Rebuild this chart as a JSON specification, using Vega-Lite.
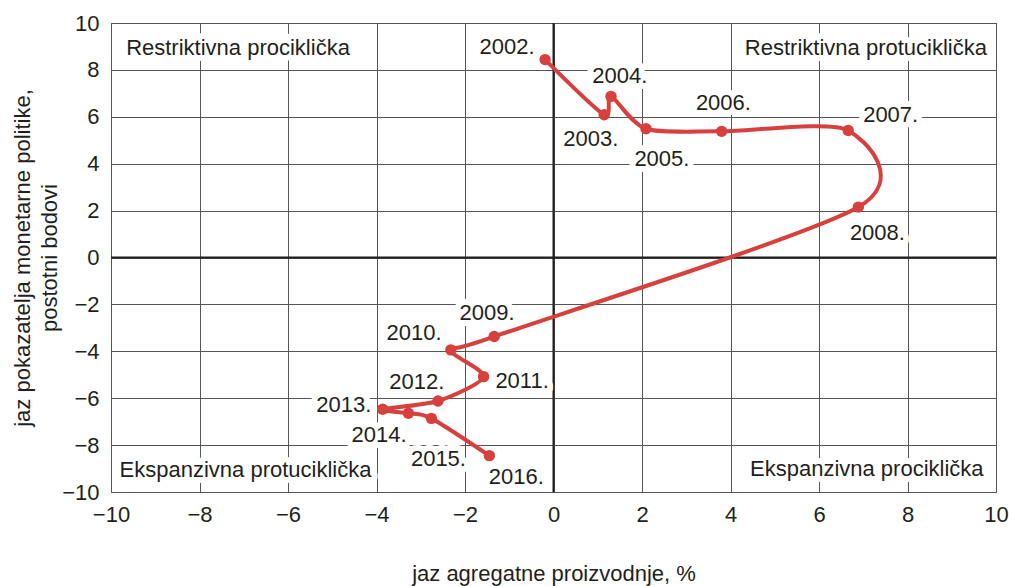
{
  "$schema": "https://vega.github.io/schema/vega-lite/v6.json",
  "width": 885,
  "height": 469,
  "autosize": {"type": "none"},
  "padding": {"left": 111, "top": 23, "right": 13, "bottom": 94},
  "background": "white",
  "config": {
    "view": {"stroke": "#3a3a3a", "strokeWidth": 1},
    "font": "Liberation Sans",
    "axis": {
      "labelFont": "Liberation Sans",
      "labelFontSize": 22,
      "labelColor": "#231f20",
      "titleFont": "Liberation Sans",
      "titleFontSize": 22,
      "titleFontWeight": "normal",
      "titleColor": "#231f20",
      "ticks": false,
      "tickSize": 0,
      "domain": false,
      "grid": true,
      "gridColor": "#555555",
      "gridWidth": 1,
      "labelFlush": false,
      "labelOverlap": false,
      "labelPadding": 12
    }
  },
  "datasets": {
    "pts": [
      {"year": 2002, "x": -0.19, "y": 8.44},
      {"year": 2003, "x": 1.145, "y": 6.09},
      {"year": 2004, "x": 1.30, "y": 6.87},
      {"year": 2005, "x": 2.09, "y": 5.49},
      {"year": 2006, "x": 3.80, "y": 5.38},
      {"year": 2007, "x": 6.66, "y": 5.42},
      {"year": 2008, "x": 6.89, "y": 2.15},
      {"year": 2009, "x": -1.34, "y": -3.37},
      {"year": 2010, "x": -2.32, "y": -3.94},
      {"year": 2011, "x": -1.58, "y": -5.08},
      {"year": 2012, "x": -2.61, "y": -6.12},
      {"year": 2013, "x": -3.86, "y": -6.47},
      {"year": 2014, "x": -3.28, "y": -6.64},
      {"year": 2015, "x": -2.76, "y": -6.86},
      {"year": 2016, "x": -1.45, "y": -8.45}
    ],
    "labels": [
      {"label": "2002.", "lx": -1.05, "ly": 8.98},
      {"label": "2003.", "lx": 0.845, "ly": 5.07},
      {"label": "2004.", "lx": 1.50, "ly": 7.72},
      {"label": "2005.", "lx": 2.45, "ly": 4.20},
      {"label": "2006.", "lx": 3.84, "ly": 6.59},
      {"label": "2007.", "lx": 7.62, "ly": 6.08},
      {"label": "2008.", "lx": 7.32, "ly": 1.05},
      {"label": "2009.", "lx": -1.50, "ly": -2.35},
      {"label": "2010.", "lx": -3.15, "ly": -3.20},
      {"label": "2011.", "lx": -0.71, "ly": -5.25},
      {"label": "2012.", "lx": -3.09, "ly": -5.30},
      {"label": "2013.", "lx": -4.74, "ly": -6.30},
      {"label": "2014.", "lx": -3.94, "ly": -7.59},
      {"label": "2015.", "lx": -2.60, "ly": -8.61},
      {"label": "2016.", "lx": -0.84, "ly": -9.38},
      {"label": "Restriktivna prociklička", "lx": -7.13, "ly": 8.95},
      {"label": "Restriktivna protuciklička", "lx": 7.06, "ly": 8.95},
      {"label": "Ekspanzivna protuciklička", "lx": -6.96, "ly": -9.07},
      {"label": "Ekspanzivna prociklička", "lx": 7.08, "ly": -9.0}
    ],
    "zero": [{"z": 0}]
  },
  "layer": [
    {
      "data": {"name": "zero"},
      "mark": {"type": "rule", "color": "#231f20", "strokeWidth": 2},
      "encoding": {
        "x": {"field": "z", "type": "quantitative",
          "scale": {"domain": [-10, 10], "nice": false, "zero": false},
          "axis": {"values": [-10, -8, -6, -4, -2, 0, 2, 4, 6, 8, 10],
            "title": "jaz agregatne proizvodnje, %",
            "titleX": 442.5, "titleY": 88, "titleBaseline": "alphabetic", "titleAlign": "center"}}
      }
    },
    {
      "data": {"name": "zero"},
      "mark": {"type": "rule", "color": "#231f20", "strokeWidth": 2},
      "encoding": {
        "y": {"field": "z", "type": "quantitative",
          "scale": {"domain": [-10, 10], "nice": false, "zero": false},
          "axis": {"values": [-10, -8, -6, -4, -2, 0, 2, 4, 6, 8, 10],
            "title": ["jaz pokazatelja monetarne politike,", "postotni bodovi"],
            "titleX": -82, "titleY": 234.5, "titleAngle": -90,
            "titleBaseline": "alphabetic", "titleAlign": "center", "titleLineHeight": 27}}
      }
    },
    {
      "data": {"name": "labels"},
      "mark": {"type": "text", "font": "Liberation Sans", "fontSize": 22, "align": "center", "baseline": "middle",
        "color": "white", "stroke": "white", "strokeWidth": 12, "strokeJoin": "round"},
      "encoding": {
        "x": {"field": "lx", "type": "quantitative"},
        "y": {"field": "ly", "type": "quantitative"},
        "text": {"field": "label"}
      }
    },
    {
      "data": {"name": "pts"},
      "mark": {"type": "line", "interpolate": "cardinal", "tension": 0.2, "color": "#d7403d", "strokeWidth": 4},
      "encoding": {
        "x": {"field": "x", "type": "quantitative"},
        "y": {"field": "y", "type": "quantitative"},
        "order": {"field": "year", "type": "quantitative"}
      }
    },
    {
      "data": {"name": "pts"},
      "mark": {"type": "circle", "color": "#d7403d", "opacity": 1, "size": 130},
      "encoding": {
        "x": {"field": "x", "type": "quantitative"},
        "y": {"field": "y", "type": "quantitative"}
      }
    },
    {
      "data": {"name": "labels"},
      "mark": {"type": "text", "font": "Liberation Sans", "fontSize": 22, "align": "center", "baseline": "middle", "color": "#231f20"},
      "encoding": {
        "x": {"field": "lx", "type": "quantitative"},
        "y": {"field": "ly", "type": "quantitative"},
        "text": {"field": "label"}
      }
    }
  ]
}
